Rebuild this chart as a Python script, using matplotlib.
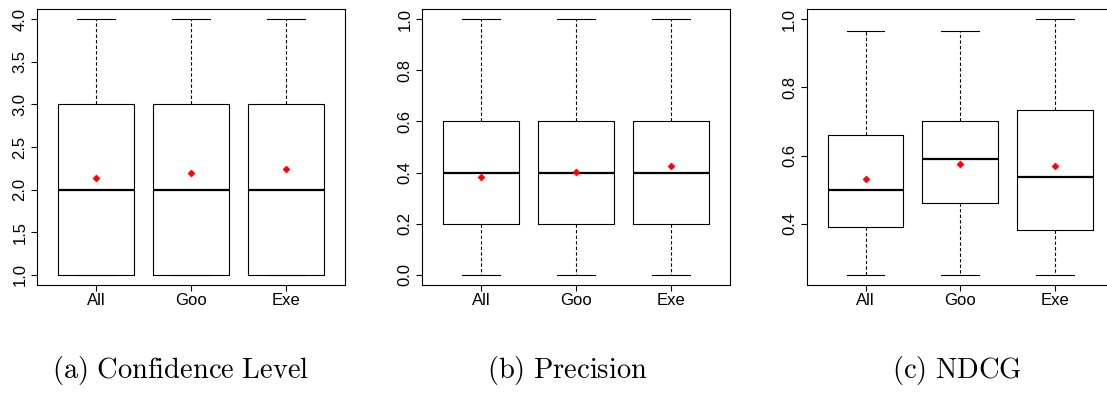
import numpy as np
import matplotlib
matplotlib.use("Agg")
import matplotlib.pyplot as plt

plt.rcParams["font.family"] = ["Liberation Sans", "DejaVu Sans"]
plt.rcParams["mathtext.fontset"] = "cm"

groups = ["All", "Goo", "Exe"]

# (a) confidence level
conf_low = [1.0, 1.0, 1.0]
conf_q1 = [1.0, 1.0, 1.0]
conf_med = [2.0, 2.0, 2.0]
conf_q3 = [3.0, 3.0, 3.0]
conf_high = [4.0, 4.0, 4.0]
conf_mean = [2.135, 2.197, 2.237]

# (b) precision
prec_low = [0.0, 0.0, 0.0]
prec_q1 = [0.2, 0.2, 0.2]
prec_med = [0.4, 0.4, 0.4]
prec_q3 = [0.6, 0.6, 0.6]
prec_high = [1.0, 1.0, 1.0]
prec_mean = [0.383, 0.404, 0.427]

# (c) NDCG
ndcg_low = [0.25, 0.25, 0.25]
ndcg_q1 = [0.389, 0.46, 0.381]
ndcg_med = [0.50, 0.589, 0.538]
ndcg_q3 = [0.661, 0.70, 0.733]
ndcg_high = [0.964, 0.964, 1.0]
ndcg_mean = [0.532, 0.575, 0.569]

captions = ["(a) Confidence Level", "(b) Precision", "(c) NDCG"]

panels = [
    (conf_low, conf_q1, conf_med, conf_q3, conf_high, conf_mean,
     (0.88, 4.12), np.arange(1.0, 4.01, 0.5)),
    (prec_low, prec_q1, prec_med, prec_q3, prec_high, prec_mean,
     (-0.04, 1.04), np.arange(0.0, 1.01, 0.2)),
    (ndcg_low, ndcg_q1, ndcg_med, ndcg_q3, ndcg_high, ndcg_mean,
     (0.22, 1.03), np.arange(0.4, 1.01, 0.2)),
]

W, H = 1107, 393
fig = plt.figure(figsize=(W / 100, H / 100), dpi=100)

# axes frames in pixels: left, right (top 9, bottom 285)
frames = [(37, 345), (422.3, 729.6), (806.7, 1114)]
caption_x = [181, 567.5, 956.5]

for i, (lo, q1, med, q3, hi, mean, ylim, yticks) in enumerate(panels):
    l, r = frames[i]
    ax = fig.add_axes([l / W, (H - 285) / H, (r - l) / W, 276 / H])
    stats = []
    for j, g in enumerate(groups):
        stats.append(dict(label=g, whislo=lo[j], q1=q1[j], med=med[j],
                          q3=q3[j], whishi=hi[j], mean=mean[j], fliers=[]))
    ax.bxp(stats, positions=[1, 2, 3], widths=0.8, capwidths=0.4,
           showmeans=True, showfliers=False,
           boxprops=dict(color="black", lw=0.8),
           medianprops=dict(color="black", lw=1.6, solid_capstyle="butt"),
           whiskerprops=dict(color="black", lw=0.8, ls=(0, (3, 2))),
           capprops=dict(color="black", lw=0.8),
           meanprops=dict(marker="D", markersize=3.5, markerfacecolor="red",
                          markeredgecolor="red", markeredgewidth=0.5))
    ax.set_xlim(0.38, 3.62)
    ax.set_ylim(*ylim)
    ax.set_yticks(yticks)
    ax.set_yticklabels([f"{v:.1f}" for v in yticks], rotation=90,
                       va="center", fontsize=12)
    ax.set_xticks([1, 2, 3])
    ax.set_xticklabels(groups, fontsize=12)
    ax.tick_params(axis="both", direction="out", length=4, width=0.8,
                   color="black")
    ax.tick_params(axis="y", pad=3)
    ax.tick_params(axis="x", pad=2)
    for sp in ax.spines.values():
        sp.set_linewidth(0.8)
    fig.text(caption_x[i] / W, (H - 378) / H,
             r"$\mathrm{" + captions[i].replace(" ", r"\ ") + "}$",
             ha="center", va="baseline", fontsize=20.5)

fig.savefig("out.png", dpi=100)
